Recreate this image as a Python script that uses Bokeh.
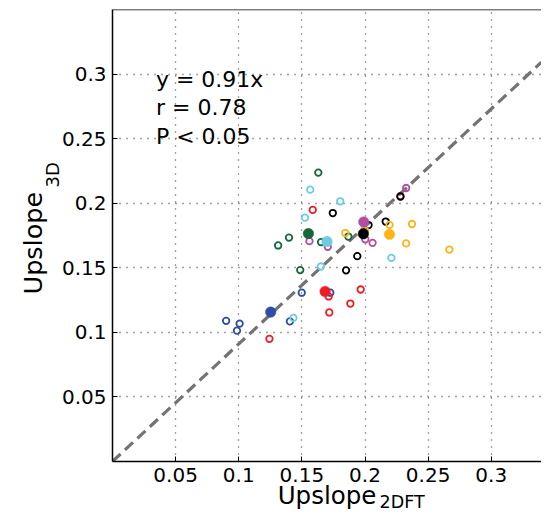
import numpy as np
from bokeh.plotting import figure
from bokeh.models import FixedTicker, Span, Label, LinearAxis
from bokeh.embed import file_html
from bokeh.resources import INLINE

# ---------------- data ----------------
X_MAX = 0.3398
Y_MAX = 0.35
SLOPE = 0.91

X_TICKS = [0.05, 0.1, 0.15, 0.2, 0.25, 0.3]
X_TICK_LABELS = ["0.05", "0.1", "0.15", "0.2", "0.25", "0.3"]
Y_TICKS = [0.05, 0.1, 0.15, 0.2, 0.25, 0.3]
Y_TICK_LABELS = ["0.05", "0.1", "0.15", "0.2", "0.25", "0.3"]

GROUP_NAMES = ["blue", "red", "green", "cyan", "magenta", "black", "orange"]
GROUP_COLORS = ["#2e4ea6", "#ee1c25", "#16683a", "#6ccde0", "#b24fa2", "#000000", "#fdb414"]

blue_x = [0.0900, 0.0986, 0.1007, 0.1405, 0.1499, 0.1725]
blue_y = [0.1089, 0.1013, 0.1068, 0.1085, 0.1307, 0.1307]
red_x = [0.1586, 0.1966, 0.1884, 0.1717, 0.1243, 0.1712]
red_y = [0.1948, 0.1332, 0.1223, 0.1154, 0.0950, 0.1278]
green_x = [0.1630, 0.1312, 0.1398, 0.1487, 0.1652, 0.1868]
green_y = [0.2237, 0.1673, 0.1734, 0.1482, 0.1699, 0.1742]
cyan_x = [0.1566, 0.1804, 0.1525, 0.1651, 0.2209, 0.1433]
cyan_y = [0.2105, 0.2015, 0.1888, 0.1510, 0.1577, 0.1112]
magenta_x = [0.1560, 0.1705, 0.2002, 0.2060, 0.2280, 0.2326]
magenta_y = [0.1706, 0.1663, 0.1721, 0.1693, 0.2054, 0.2118]
black_x = [0.1745, 0.1939, 0.1850, 0.2028, 0.2164, 0.2281]
black_y = [0.1924, 0.1590, 0.1480, 0.1831, 0.1858, 0.2052]
orange_x = [0.1844, 0.2194, 0.2372, 0.2326, 0.2668, 0.2000]
orange_y = [0.1769, 0.1832, 0.1839, 0.1689, 0.1641, 0.1790]

# group means (filled markers)
mean_x = [0.1253, 0.1684, 0.1552, 0.1699, 0.1990, 0.1987, 0.2194]
mean_y = [0.1157, 0.1317, 0.1765, 0.1703, 0.1855, 0.1763, 0.1759]

STATS_LINES = ["y = 0.91x", "r = 0.78", "P < 0.05"]
X_LABEL = "Upslope"
X_LABEL_SUB = "2DFT"
Y_LABEL = "Upslope"
Y_LABEL_SUB = "3D"

FONT = "DejaVu Sans"

# ---------------- figure ----------------
p = figure(width=541, height=515, x_range=(0, X_MAX), y_range=(0, Y_MAX),
           output_backend="svg", toolbar_location=None,
           min_border_left=103, min_border_right=0, min_border_top=9, min_border_bottom=54)
p.outline_line_color = None
p.background_fill_color = "white"
p.border_fill_color = "white"

for ax, ticks, labels in ((p.xaxis[0], X_TICKS, X_TICK_LABELS), (p.yaxis[0], Y_TICKS, Y_TICK_LABELS)):
    ax.ticker = FixedTicker(ticks=ticks)
    ax.major_label_overrides = {t: l for t, l in zip(ticks, labels)}
    ax.major_label_text_font = FONT
    ax.major_label_text_font_size = "20px"
    ax.major_label_text_color = "black"
    ax.axis_line_color = "black"
    ax.axis_line_width = 1.5
    ax.major_tick_in = 5
    ax.major_tick_out = 0
    ax.major_tick_line_color = "black"
    ax.minor_tick_line_color = None
p.xaxis.major_label_standoff = 6
p.yaxis.major_label_standoff = 6


def label_axis(pos, text, size, standoff, orientation):
    """An extra, line-less axis whose single tick label carries one piece of an axis title."""
    ax = LinearAxis(ticker=FixedTicker(ticks=[pos]), major_label_overrides={pos: text},
                    axis_line_color=None, major_tick_line_color=None, minor_tick_line_color=None,
                    major_tick_in=0, major_tick_out=0,
                    major_label_text_font=FONT, major_label_text_font_size=size,
                    major_label_text_color="black", major_label_standoff=standoff,
                    major_label_orientation=orientation)
    return ax


# x title: "Upslope" with subscript "2DFT"
p.add_layout(label_axis(0.2294, X_LABEL_SUB, "17.5px", 7, "horizontal"), "below")
p.add_layout(label_axis(0.1699, X_LABEL, "24.5px", -34, "horizontal"), "below")
# y title: "Upslope" with subscript "3D"
p.add_layout(label_axis(0.2088, Y_LABEL, "25.5px", 25, np.pi / 2), "left")
p.add_layout(label_axis(0.2318, Y_LABEL_SUB, "18px", -52, np.pi / 2), "left")

for g in (p.xgrid[0], p.ygrid[0]):
    g.grid_line_color = "#444444"
    g.grid_line_dash = "1 6"
    g.grid_line_width = 1.3
    g.ticker = FixedTicker(ticks=X_TICKS)

# top border of the box
p.add_layout(Span(location=Y_MAX, dimension="width", line_color="black", line_width=1.5))

# fit line
fit_x = np.array([0.0, X_MAX])
p.line(fit_x, SLOPE * fit_x, line_color="#737373", line_width=3.2, line_dash="11 6")

groups_x = [blue_x, red_x, green_x, cyan_x, magenta_x, black_x, orange_x]
groups_y = [blue_y, red_y, green_y, cyan_y, magenta_y, black_y, orange_y]
for gx, gy, c in zip(groups_x, groups_y, GROUP_COLORS):
    p.scatter(gx, gy, marker="circle", size=6.5, fill_color=None, line_color=c, line_width=1.8)
for mx, my, c in zip(mean_x, mean_y, GROUP_COLORS):
    p.scatter([mx], [my], marker="circle", size=10.5, fill_color=c, line_color=c, line_width=0.5)

# stats text
for txt, yy in zip(STATS_LINES, [0.2956, 0.2739, 0.2517]):
    p.add_layout(Label(x=0.0344, y=yy, text=txt, text_font=FONT, text_font_size="22px",
                       text_color="black", text_baseline="alphabetic", text_align="left"))

open("out.html", "w").write(file_html(p, INLINE))
